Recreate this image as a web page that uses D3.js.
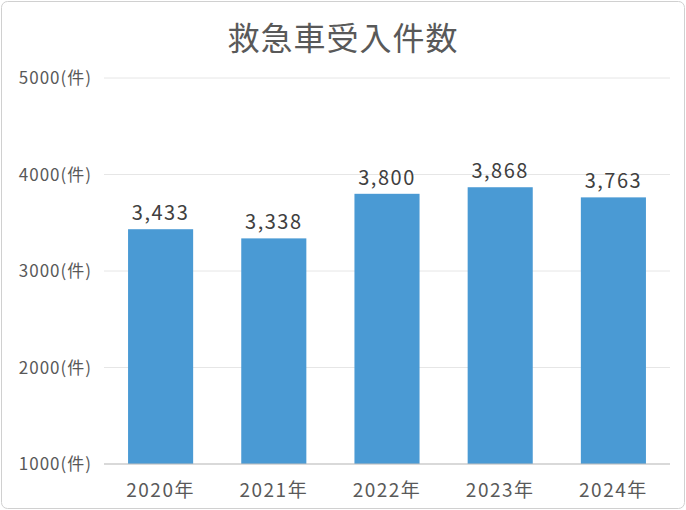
<!DOCTYPE html>
<html lang="ja">
<head>
<meta charset="UTF-8">
<script src="https://d3js.org/d3.v7.min.js"></script>
<style>
  body { margin: 0; background: #fff; }
  text { font-family: "Noto Sans CJK JP", "Noto Sans", sans-serif; }
</style>
</head>
<body>
<svg id="chart" width="686" height="510"></svg>
<script>
const years = ["2020年", "2021年", "2022年", "2023年", "2024年"];
const counts = [3433, 3338, 3800, 3868, 3763];
const yTicks = [1000, 2000, 3000, 4000, 5000];

const svg = d3.select("#chart");
const m = { top: 78, left: 104, right: 670, bottom: 464 };

// outer frame
svg.append("rect")
    .attr("x", 1.5).attr("y", 1.5).attr("width", 683).attr("height", 507)
    .attr("rx", 6).attr("fill", "#fff").attr("stroke", "#d0d0d0");

svg.append("text")
    .attr("x", 343).attr("y", 50).attr("text-anchor", "middle")
    .attr("font-size", 32).attr("fill", "#595959").attr("letter-spacing", 1)
    .text("救急車受入件数");

const x = d3.scaleBand().domain(years).range([m.left, m.right])
    .paddingInner(0.425).paddingOuter(0.2125);
const y = d3.scaleLinear().domain([1000, 5000]).range([m.bottom, m.top]);

// gridlines
svg.selectAll(".grid").data(yTicks).enter().append("line")
    .attr("x1", m.left).attr("x2", m.right)
    .attr("y1", d => y(d)).attr("y2", d => y(d))
    .attr("stroke", "#e6e6e6");

svg.selectAll(".ylab").data(yTicks).enter().append("text")
    .attr("x", 92).attr("y", d => y(d) + 6).attr("text-anchor", "end")
    .attr("font-size", 17).attr("fill", "#595959").attr("letter-spacing", 1)
    .text(d => d + "(件)");

svg.selectAll(".bar").data(counts).enter().append("rect")
    .attr("x", (d, i) => x(years[i]))
    .attr("width", x.bandwidth())
    .attr("y", d => y(d))
    .attr("height", d => y(1000) - y(d))
    .attr("fill", "#4a9ad4");

svg.selectAll(".val").data(counts).enter().append("text")
    .attr("x", (d, i) => x(years[i]) + x.bandwidth() / 2)
    .attr("y", d => y(d) - 9).attr("text-anchor", "middle")
    .attr("font-size", 20).attr("fill", "#404040").attr("letter-spacing", 1.5)
    .text(d => d3.format(",")(d));

// baseline
svg.append("line")
    .attr("x1", m.left).attr("x2", m.right)
    .attr("y1", m.bottom).attr("y2", m.bottom)
    .attr("stroke", "#bfbfbf");

svg.selectAll(".xlab").data(years).enter().append("text")
    .attr("x", d => x(d) + x.bandwidth() / 2)
    .attr("y", 497).attr("text-anchor", "middle")
    .attr("font-size", 19).attr("fill", "#595959").attr("letter-spacing", 1.5)
    .text(d => d);
</script>
</body>
</html>
